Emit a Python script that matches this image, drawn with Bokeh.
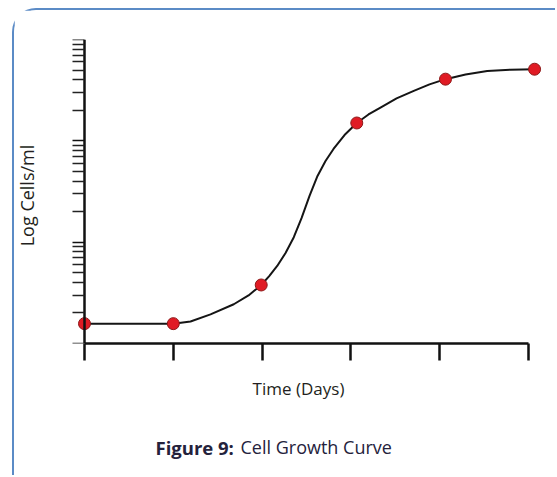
import math
from bokeh.plotting import figure
from bokeh.models import Range1d, FixedTicker, CustomJSTickFormatter, Label
from bokeh.embed import file_html
from bokeh.resources import INLINE

# ---- data ----
day_ticks = [0, 1, 2, 3, 4, 5]
decade_ticks = [1e5, 1e6, 1e7]
minor_decade_ticks = [1e4, 2e4, 3e4, 4e4, 5e4, 6e4, 7e4, 8e4, 9e4,
                      2e5, 3e5, 4e5, 5e5, 6e5, 7e5, 8e5, 9e5,
                      2e6, 3e6, 4e6, 5e6, 6e6, 7e6, 8e6, 9e6]

sample_days = [0, 1, 1.99, 3.066, 4.065, 5.068]
sample_cells = [1.57e4, 1.57e4, 3.78e4, 1.50e6, 4.06e6, 5.09e6]

curve_days = [0, 0.52, 1.0, 1.194, 1.419, 1.681, 1.847, 1.99, 2.08, 2.17,
              2.264, 2.357, 2.444, 2.534, 2.624, 2.714, 2.804, 2.928, 3.066,
              3.198, 3.333, 3.514, 3.708, 3.885, 4.065, 4.291, 4.535, 4.797,
              5.068]
curve_cells = [1.57e4, 1.57e4, 1.57e4, 1.65e4, 1.94e4, 2.44e4, 2.98e4, 3.78e4,
               4.63e4, 5.82e4, 7.82e4, 1.12e5, 1.73e5, 2.86e5, 4.50e5, 6.32e5,
               8.32e5, 1.14e6, 1.50e6, 1.82e6, 2.13e6, 2.62e6, 3.11e6, 3.61e6,
               4.06e6, 4.52e6, 4.90e6, 5.04e6, 5.09e6]

x_label = "Time (Days)"
y_label = "Log Cells/ml"
caption_bold = "Figure 9:"
caption_rest = "Cell Growth Curve"

FONT = "Open Sans"
BORDER = "2px solid #5b8bc6"

p = figure(width=543, height=467, output_backend="svg", toolbar_location=None,
           y_axis_type="log",
           x_range=Range1d(-0.135, 5.315), y_range=Range1d(1e4, 1e7),
           min_border_left=58, min_border_right=1, min_border_top=29,
           min_border_bottom=134,
           styles={"margin-left": "12px", "margin-top": "8px",
                   "border-top": BORDER, "border-left": BORDER,
                   "border-top-left-radius": "24px"})
p.outline_line_color = None
p.grid.visible = False
p.background_fill_color = "white"
p.border_fill_color = "white"

blank = CustomJSTickFormatter(code="return ''")

# x axis
xa = p.xaxis[0]
xa.ticker = FixedTicker(ticks=day_ticks, minor_ticks=[])
xa.formatter = blank
xa.bounds = (0, 5)
xa.axis_line_width = 2.5
xa.axis_line_color = "#111111"
xa.major_tick_line_width = 2.5
xa.major_tick_line_color = "#111111"
xa.major_tick_out = 17
xa.major_tick_in = 0
xa.minor_tick_line_color = None
xa.major_label_standoff = 0
xa.major_label_text_font_size = "1px"

# y axis
ya = p.yaxis[0]
ya.ticker = FixedTicker(ticks=decade_ticks, minor_ticks=minor_decade_ticks)
ya.formatter = blank
ya.fixed_location = 0
ya.axis_line_width = 2.5
ya.axis_line_color = "#111111"
ya.major_tick_line_width = 1.6
ya.major_tick_line_color = "#111111"
ya.major_tick_out = 27
ya.major_tick_in = 0
ya.minor_tick_line_width = 1.5
ya.minor_tick_line_color = "#222222"
ya.minor_tick_out = 14
ya.minor_tick_in = 0
ya.major_label_standoff = 0
ya.major_label_text_font_size = "1px"

# curve and points
p.line(curve_days, curve_cells, line_color="#151515", line_width=2)
p.scatter(sample_days, sample_cells, size=12, fill_color="#e01b24",
          line_color="#8e1a1a", line_width=1)

# texts placed in side panels (not clipped to the frame)
p.add_layout(Label(x=226, y=-4.5, x_units="screen", y_units="screen",
                   text=x_label, text_align="center", text_baseline="alphabetic",
                   text_font=FONT, text_font_size="17px", text_color="#231f20"),
             "below")
p.add_layout(Label(x=83, y=-39, x_units="screen", y_units="screen",
                   text=caption_bold, text_align="left", text_baseline="alphabetic",
                   text_font=FONT, text_font_style="bold", text_font_size="18.5px",
                   text_color="#24223c"), "below")
p.add_layout(Label(x=168, y=-14.5, x_units="screen", y_units="screen",
                   text=caption_rest, text_align="left", text_baseline="alphabetic",
                   text_font=FONT, text_font_size="18px", text_color="#24223c"),
             "below")
p.add_layout(Label(x=-21.5, y=148, x_units="screen", y_units="screen",
                   text=y_label, angle=math.pi / 2, text_align="center",
                   text_baseline="middle",
                   text_font=FONT, text_font_size="18px", text_color="#231f20"),
             "left")

open("out.html", "w").write(file_html(p, INLINE))
